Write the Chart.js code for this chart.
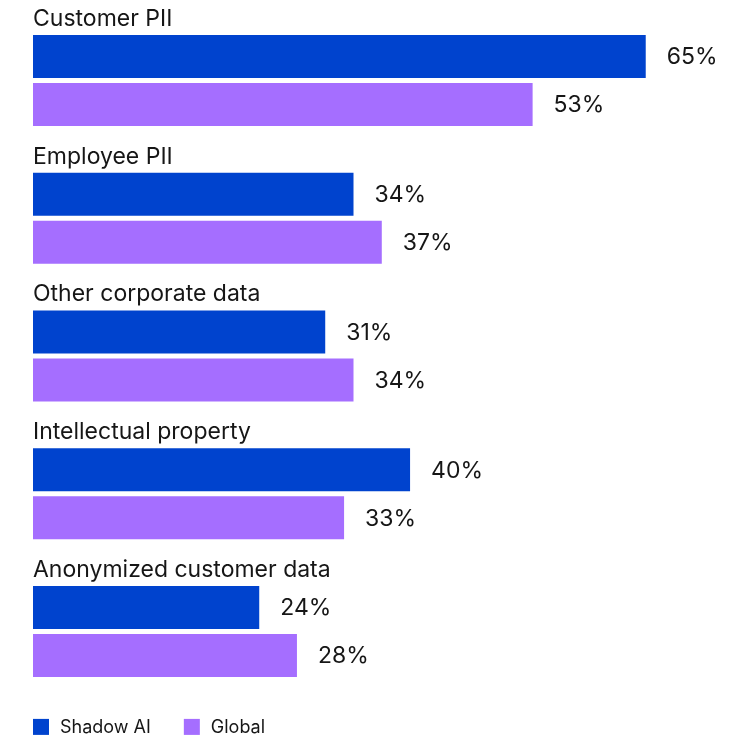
<!DOCTYPE html>
<html>
<head>
<meta charset="utf-8">
<title>Shadow AI vs Global</title>
<script src="https://cdn.jsdelivr.net/npm/chart.js@4"></script>
<style>
  html, body { margin: 0; padding: 0; background: #ffffff; }
  #wrap { position: relative; width: 748px; height: 741px; }
</style>
</head>
<body>
<div id="wrap"><canvas id="chart"></canvas></div>
<script>
// categories and series, in percent
const categories = ['Customer PII', 'Employee PII', 'Other corporate data', 'Intellectual property', 'Anonymized customer data'];
const shadowAI = [65, 34, 31, 40, 24];
const globalAvg = [53, 37, 34, 33, 28];
const seriesNames = ['Shadow AI', 'Global'];

const BLUE = '#0043ce';
const PURPLE = '#a56eff';
const INK = '#161616';
const FONT = 'Inter, sans-serif';

// category names above each group, value labels past the bar ends
const barLabels = {
    id: 'barLabels',
    afterDatasetsDraw(chart) {
        const ctx = chart.ctx;
        const area = chart.chartArea;
        ctx.save();
        ctx.fillStyle = INK;

        const first = chart.getDatasetMeta(0).data;
        ctx.font = '23px ' + FONT;
        ctx.textAlign = 'left';
        ctx.textBaseline = 'alphabetic';
        first.forEach((bar, i) => {
            const top = bar.y - bar.height / 2;
            ctx.fillText(categories[i], area.left, top - 9);
        });

        ctx.textBaseline = 'middle';
        chart.data.datasets.forEach((ds, d) => {
            chart.getDatasetMeta(d).data.forEach((bar, i) => {
                ctx.fillText(ds.data[i] + '%', bar.x + 21, bar.y + 1);
            });
        });
        ctx.restore();
    }
};

// square-swatch legend under the plot
const swatchLegend = {
    id: 'swatchLegend',
    afterDraw(chart) {
        const ctx = chart.ctx;
        const area = chart.chartArea;
        const cy = area.bottom + 26.5;
        ctx.save();
        ctx.font = '18px ' + FONT;
        ctx.textBaseline = 'middle';
        let x = area.left;
        chart.data.datasets.forEach((ds) => {
            ctx.fillStyle = ds.backgroundColor;
            ctx.fillRect(x, cy - 8, 16, 16);
            ctx.fillStyle = INK;
            ctx.fillText(ds.label, x + 27, cy + 1);
            x += 27 + ctx.measureText(ds.label).width + 33;
        });
        ctx.restore();
    }
};

new Chart(document.getElementById('chart'), {
    type: 'bar',
    data: {
        labels: categories,
        datasets: [
            { label: seriesNames[0], data: shadowAI, backgroundColor: BLUE },
            { label: seriesNames[1], data: globalAvg, backgroundColor: PURPLE }
        ]
    },
    options: {
        indexAxis: 'y',
        responsive: true,
        maintainAspectRatio: false,
        animation: false,
        categoryPercentage: 0.697,
        barPercentage: 0.896,
        layout: { padding: { left: 33, right: 8, top: 11.6, bottom: 40.6 } },
        scales: {
            x: { display: false, min: 0, max: 75 },
            y: { display: false }
        },
        plugins: {
            legend: { display: false },
            tooltip: { enabled: false }
        }
    },
    plugins: [barLabels, swatchLegend]
});
</script>
</body>
</html>
